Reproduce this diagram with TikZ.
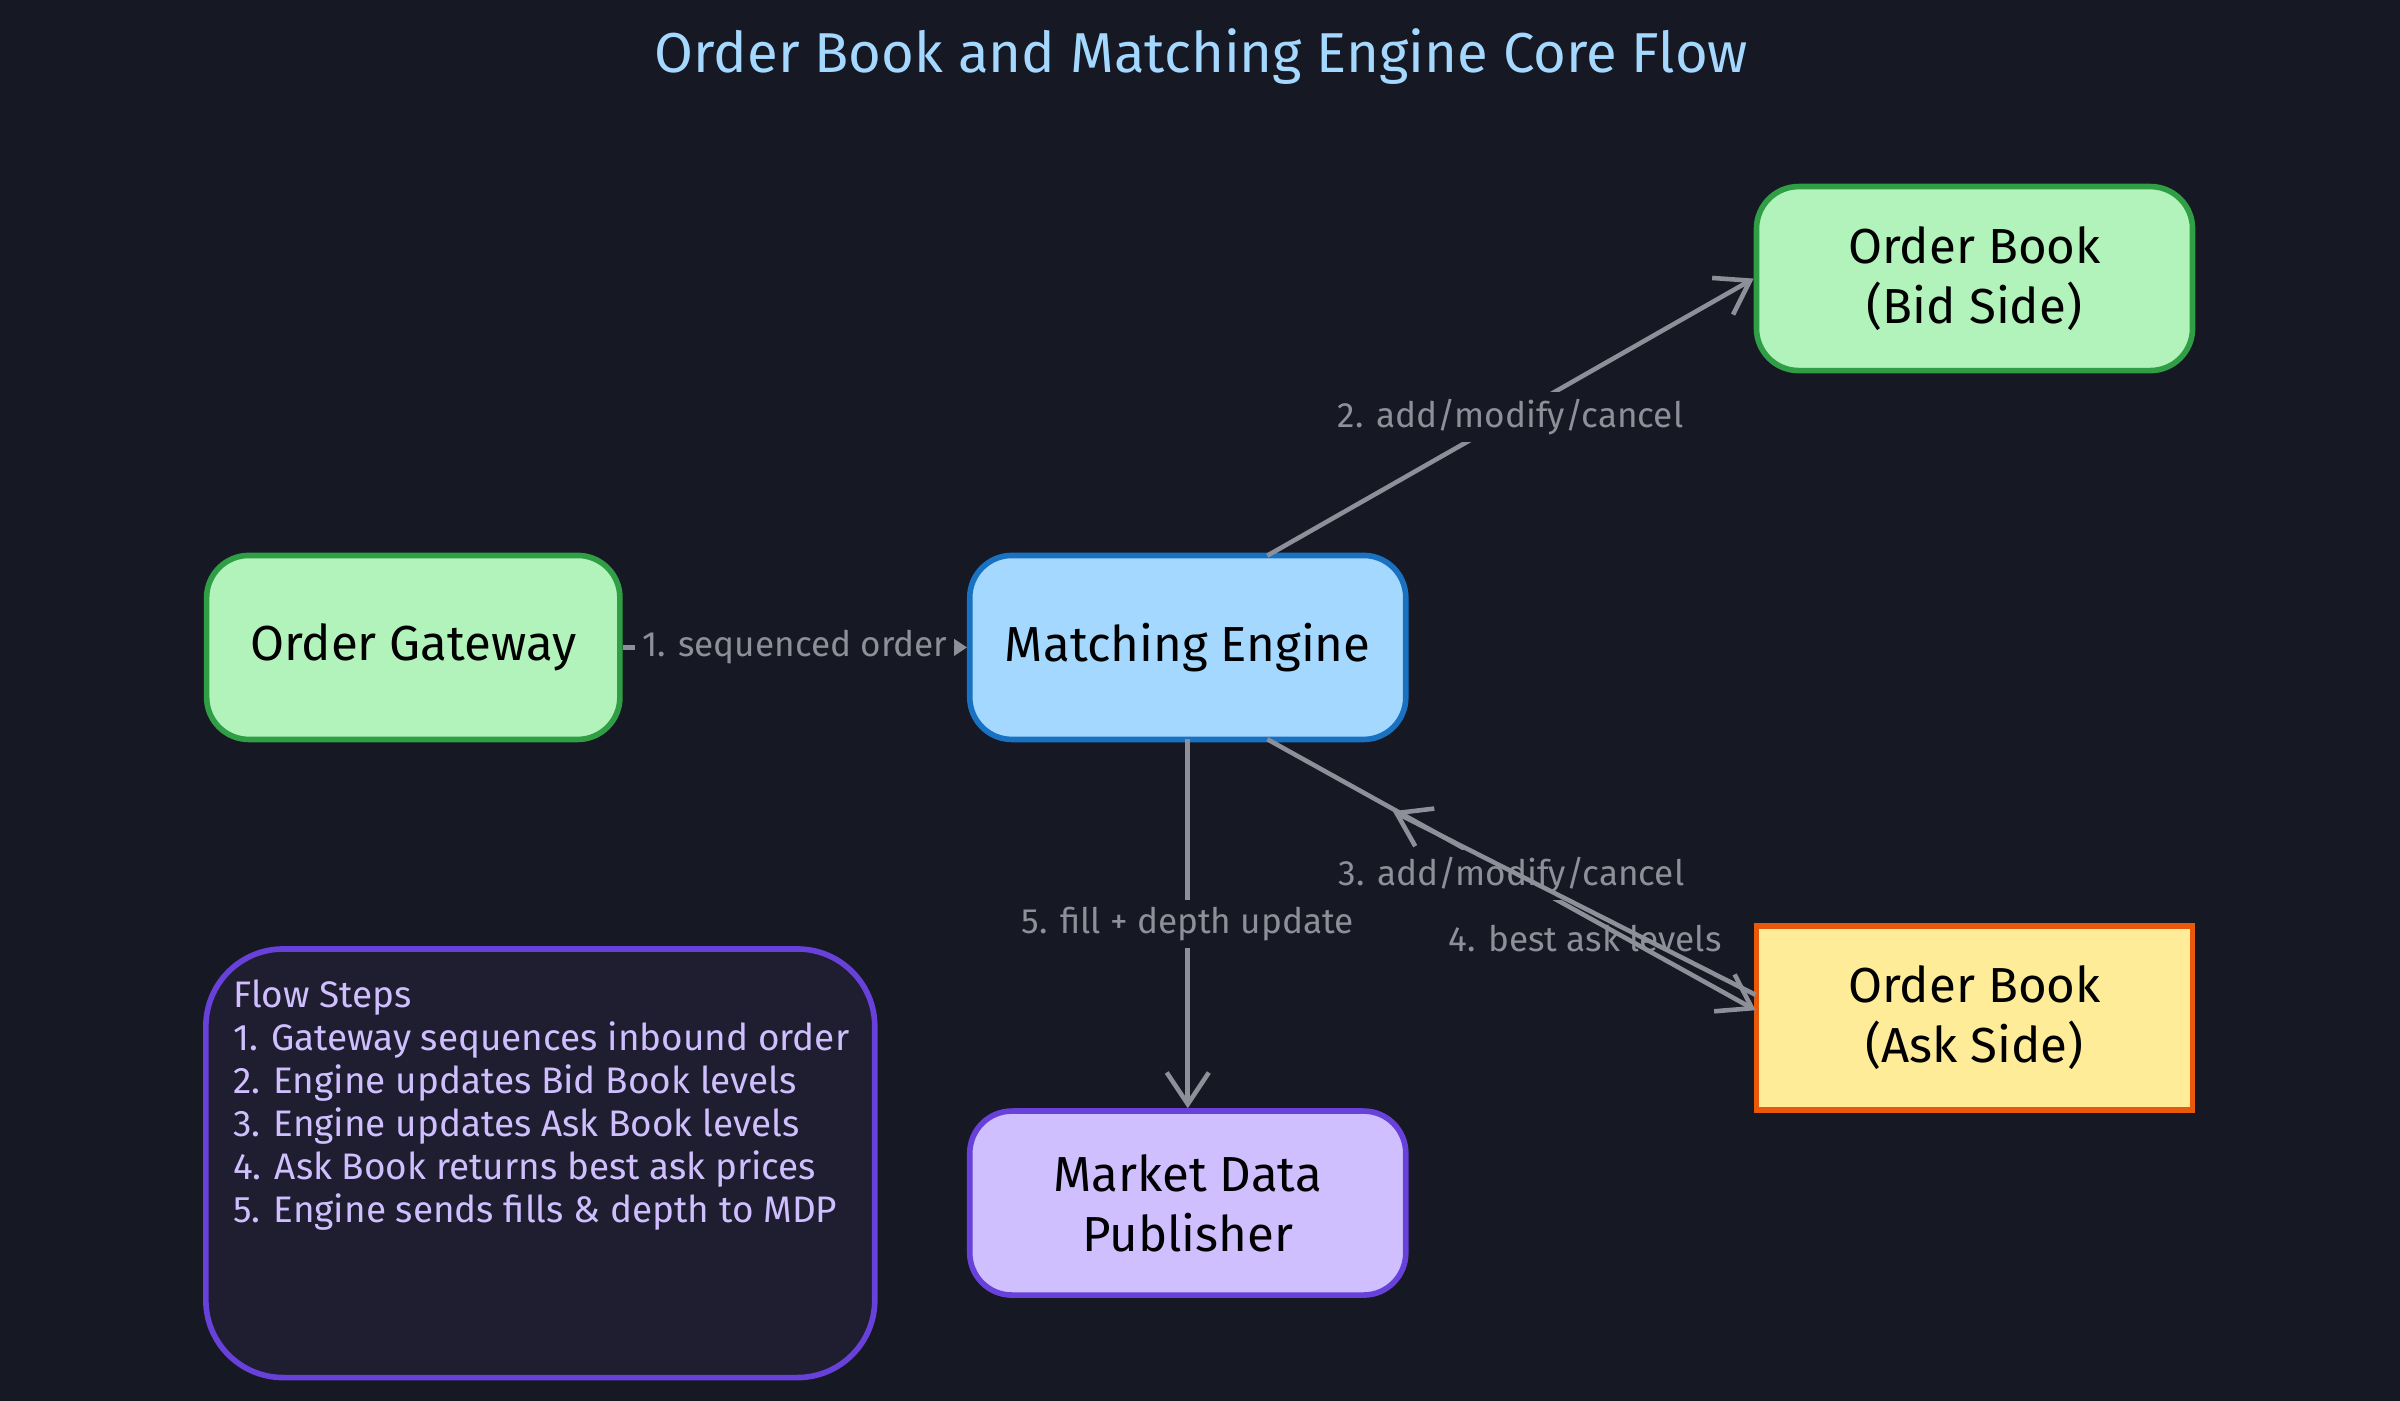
\documentclass[tikz,border=0pt]{standalone}
\usepackage{fontspec}
\setmainfont{Fira Sans}
\usetikzlibrary{arrows.meta}
\definecolor{bg}{HTML}{161824}
\definecolor{edge}{HTML}{8D9098}
\definecolor{gfill}{HTML}{B2F2BB}\definecolor{gdraw}{HTML}{2F9E44}
\definecolor{bfill}{HTML}{A5D8FF}\definecolor{bdraw}{HTML}{1971C2}
\definecolor{yfill}{HTML}{FFEC99}\definecolor{ydraw}{HTML}{E8590C}
\definecolor{pfill}{HTML}{D0BFFF}\definecolor{pdraw}{HTML}{6741D9}
\definecolor{notefill}{HTML}{1E1E30}
\definecolor{titlec}{HTML}{A5D8FF}
\begin{document}
\begin{tikzpicture}[x=0.015306cm,y=-0.015306cm,
  box/.style={draw, line width=1.6pt, rounded corners=12pt, minimum width=4.36cm, minimum height=1.84cm, align=center, font=\fontsize{14}{17}\selectfont, text=black, inner sep=0pt},
  arr/.style={draw=edge, line width=1.3pt, -{Straight Barb[length=9pt,width=12pt]}},
  lab/.style={fill=bg, text=edge, font=\fontsize{10}{12}\selectfont, inner sep=2pt}]
\fill[bg] (0,0) rectangle (1568,915);
\node[text=titlec, font=\fontsize{16}{19}\selectfont] (title) at (785,37) {Order Book and Matching Engine Core Flow};
\node[box, fill=gfill, draw=gdraw, minimum width=270*0.015306cm] (gw) at (270,423) {Order Gateway};
\node[box, fill=bfill, draw=bdraw] (me) at (776,423) {Matching Engine};
\node[box, fill=gfill, draw=gdraw] (bid) at (1290,182) {Order Book\\(Bid Side)};
\node[box, fill=yfill, draw=ydraw, rounded corners=0pt] (ask) at (1290,665) {Order Book\\(Ask Side)};
\node[box, fill=pfill, draw=pdraw] (mdp) at (776,786) {Market Data\\Publisher};
\node[draw=pdraw, fill=notefill, line width=1.6pt, rounded corners=22pt, minimum width=437*0.015306cm, minimum height=280*0.015306cm] (note) at (353,760) {};
\node[anchor=north west, text=pfill, align=left, font=\fontsize{10.5}{12.2}\selectfont, inner sep=0pt] (notetext) at (152,640) {Flow Steps\\1. Gateway sequences inbound order\\2. Engine updates Bid Book levels\\3. Engine updates Ask Book levels\\4. Ask Book returns best ask prices\\5. Engine sends fills \& depth to MDP};
\coordinate (meT) at (828,363);
\coordinate (meB) at (828,483);
\coordinate (meB2) at (910,530);
\coordinate (askL) at (1147,660);
\coordinate (askL2) at (1147,650);
\draw[arr] (gw.east) -- node[lab]{1. sequenced order} (me.west);
\draw[arr] (meT) -- node[lab, pos=0.5]{2. add/modify/cancel} (bid.west);
\draw[arr] (meB) -- node[lab, pos=0.5]{3. add/modify/cancel} (askL);
\draw[arr] (askL2) -- node[pos=0.47, below=3pt, text=edge, font=\fontsize{10}{12}\selectfont, inner sep=1pt]{4. best ask levels} (meB2);
\draw[arr] (776,483) -- node[lab]{5. fill + depth update} (mdp.north);
\end{tikzpicture}
\end{document}
